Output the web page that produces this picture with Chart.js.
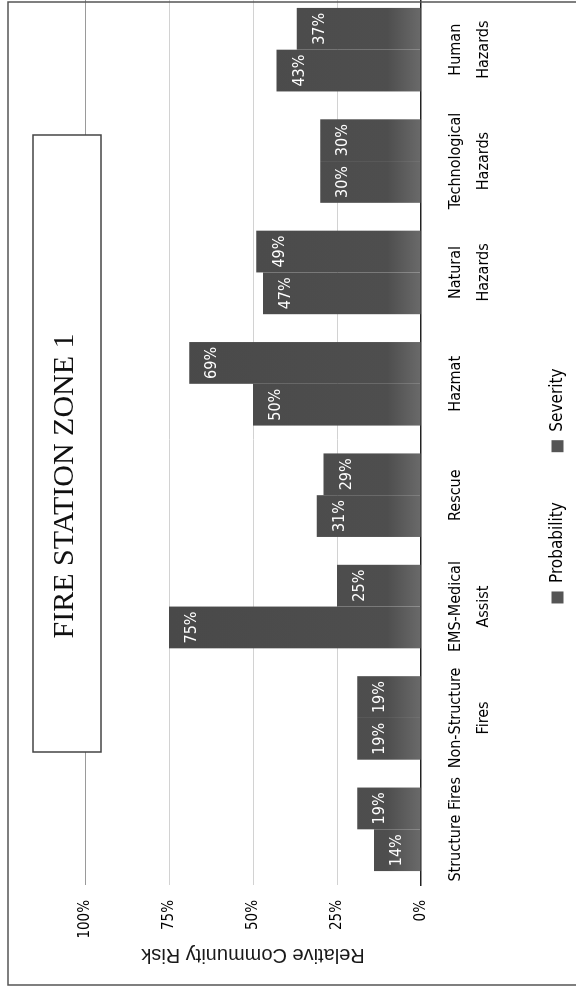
<!DOCTYPE html>
<html>
<head>
<meta charset="utf-8">
<title>Fire Station Zone 1</title>
<script src="https://cdn.jsdelivr.net/npm/chart.js@4.4.1/dist/chart.umd.min.js"></script>
<style>
  html, body { margin: 0; padding: 0; background: #fff; overflow: hidden; }
  body { width: 576px; height: 988px; position: relative; }
  /* the chart was printed sideways, so the whole canvas is turned a quarter left */
  #wrap {
    position: absolute; left: 0; top: 0;
    width: 1000px; height: 576px;
    transform-origin: 0 0;
    transform: translate(0, 988px) rotate(-90deg);
  }
</style>
</head>
<body>
<div id="wrap"><canvas id="zone-chart" width="1000" height="576"></canvas></div>
<script>
// Data
const categories = [
    ['Structure Fires'],
    ['Non-Structure', 'Fires'],
    ['EMS-Medical', 'Assist'],
    ['Rescue'],
    ['Hazmat'],
    ['Natural', 'Hazards'],
    ['Technological', 'Hazards'],
    ['Human', 'Hazards']
];
const probability = [14, 19, 75, 31, 50, 47, 30, 43];
const severity = [19, 19, 25, 29, 69, 49, 30, 37];
const riskTicks = [0, 25, 50, 75, 100];

const narrow = "'DejaVu Sans Condensed', 'Liberation Sans Narrow', 'Liberation Sans', sans-serif";

// dark grey bars, a bit lighter near the base like the 3D print
function barFill(context) {
    const area = context.chart.chartArea;
    if (!area) return '#4d4d4d';
    const g = context.chart.ctx.createLinearGradient(0, area.top, 0, area.bottom);
    g.addColorStop(0, '#474747');
    g.addColorStop(0.9, '#4e4e4e');
    g.addColorStop(1, '#6a6a6a');
    return g;
}

// white percentage labels just inside the end of each bar
const barLabels = {
    id: 'barLabels',
    afterDatasetsDraw(chart) {
        const ctx = chart.ctx;
        ctx.save();
        ctx.font = '16px ' + narrow;
        ctx.fillStyle = '#ffffff';
        ctx.textAlign = 'center';
        ctx.textBaseline = 'middle';
        chart.data.datasets.forEach((ds, i) => {
            chart.getDatasetMeta(i).data.forEach((bar, j) => {
                ctx.fillText(ds.data[j] + '%', bar.x, bar.y + 23);
            });
        });
        ctx.restore();
    }
};

// outer chart border and the framed title
const frame = {
    id: 'frame',
    afterDraw(chart) {
        const ctx = chart.ctx;
        ctx.save();
        ctx.strokeStyle = '#555';
        ctx.lineWidth = 1.5;
        ctx.strokeRect(3, 8, 983, 620);
        ctx.fillStyle = '#ffffff';
        ctx.fillRect(236, 33, 617, 68);
        ctx.strokeStyle = '#444';
        ctx.lineWidth = 1.5;
        ctx.strokeRect(236, 33, 617, 68);
        ctx.restore();
        chart.titleBlock.draw();
    }
};

const canvas = document.getElementById('zone-chart');
const ctx = canvas.getContext('2d');

new Chart(ctx, {
    type: 'bar',
    data: {
        labels: categories,
        datasets: [
            {
                label: 'Probability',
                data: probability,
                backgroundColor: barFill,
                borderWidth: 0,
                categoryPercentage: 0.75,
                barPercentage: 1.0
            },
            {
                label: 'Severity',
                data: severity,
                backgroundColor: barFill,
                borderWidth: 0,
                categoryPercentage: 0.75,
                barPercentage: 1.0
            }
        ]
    },
    options: {
        responsive: false,
        animation: false,
        devicePixelRatio: 1,
        layout: { padding: { top: 10, left: 10, right: 6, bottom: 0 } },
        plugins: {
            title: {
                display: true,
                text: 'FIRE STATION ZONE 1',
                color: '#111',
                font: { family: "'Liberation Serif', 'Times New Roman', serif", size: 30, weight: 'normal', lineHeight: 1.2 },
                padding: { top: 37, bottom: 2 }
            },
            legend: {
                position: 'bottom',
                labels: {
                    color: '#000',
                    font: { family: narrow, size: 17 },
                    boxWidth: 12,
                    boxHeight: 12,
                    padding: 50,
                    generateLabels(chart) {
                        return chart.data.datasets.map((ds, i) => ({
                            text: ds.label,
                            fillStyle: '#555555',
                            strokeStyle: '#555555',
                            lineWidth: 0,
                            datasetIndex: i
                        }));
                    }
                }
            },
            tooltip: { enabled: false }
        },
        scales: {
            x: {
                grid: { display: false },
                border: { display: true, color: '#222', width: 1.5 },
                ticks: {
                    color: '#000',
                    font: { family: narrow, size: 16, lineHeight: 1.8 },
                    padding: 12,
                    maxRotation: 0,
                    minRotation: 0,
                    autoSkip: false
                },
                afterFit(scale) { scale.height = 78; }
            },
            y: {
                min: 0,
                max: 100,
                afterBuildTicks(scale) {
                    scale.ticks = riskTicks.map(v => ({ value: v }));
                },
                grid: {
                    drawTicks: false,
                    color(c) {
                        if (c.tick.value === 0) return 'rgba(0,0,0,0)';
                        return c.tick.value === 100 ? '#9a9a9a' : '#d2d2d2';
                    }
                },
                border: { display: false },
                ticks: {
                    color: '#000',
                    font: { family: narrow, size: 15 },
                    padding: 15,
                    callback: v => v + '%'
                },
                title: {
                    display: true,
                    text: 'Relative Community Risk',
                    color: '#1a1a1a',
                    font: { family: "'Liberation Sans', Arial, sans-serif", size: 20, lineHeight: 1.2 },
                    padding: { top: 11, bottom: 0 }
                },
                afterFit(scale) { scale.width = 93; }
            }
        }
    },
    plugins: [barLabels, frame]
});
</script>
</body>
</html>
